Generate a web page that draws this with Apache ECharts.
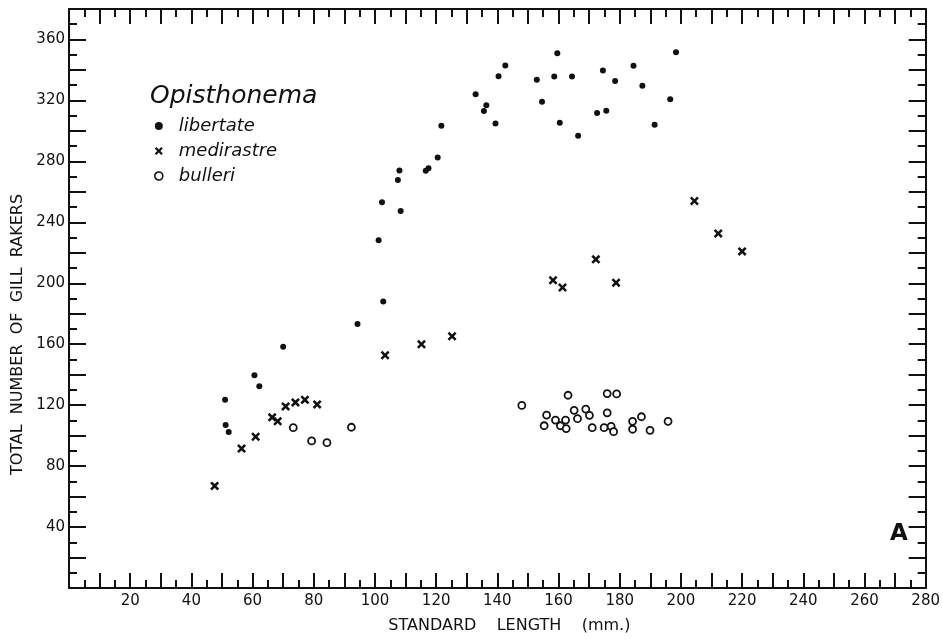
<!DOCTYPE html>
<html>
<head>
<meta charset="utf-8">
<title>Opisthonema gill rakers</title>
<script src="https://cdn.jsdelivr.net/npm/echarts@6/dist/echarts.min.js"></script>
<style>
  html, body { margin: 0; padding: 0; background: #fff; overflow: hidden; }
  #chart { width: 100vw; height: 100vh; }
</style>
</head>
<body>
<div id="chart"></div>
<script>
// standard length (mm) and total gill rakers
const libertateLength = [51.0, 51.2, 52.2, 60.6, 62.2, 70.0, 94.3, 101.2, 102.3, 102.7, 107.5, 108.0, 108.4, 116.6, 117.5, 120.5, 121.7, 132.9, 135.6, 136.4, 139.4, 140.4, 142.6, 152.9, 154.6, 158.6, 159.6, 160.4, 164.4, 166.4, 172.6, 174.5, 175.6, 178.5, 184.5, 187.4, 191.4, 196.5, 198.4]
const libertateRakers = [123.5, 107, 102.4, 139.6, 132.4, 158.3, 173.3, 228.3, 253.1, 188, 267.7, 274, 247.4, 273.8, 275.5, 282.5, 303.3, 324, 313.1, 316.8, 304.8, 335.9, 342.9, 333.5, 319.2, 335.7, 351, 305.3, 335.7, 296.8, 311.8, 339.7, 313.3, 332.7, 342.7, 329.6, 304, 320.7, 351.6]

const medirastreLength = [47.6, 56.4, 61.0, 66.4, 68.2, 70.8, 74.0, 77.1, 81.1, 103.3, 115.2, 125.2, 158.2, 161.3, 172.2, 178.8, 204.4, 212.2, 220.0]
const medirastreRakers = [67, 91.5, 99.3, 112, 109.4, 119.2, 121.8, 123.5, 120.5, 152.8, 160, 165.2, 202, 197.2, 215.7, 200.3, 254, 232.7, 220.9]

const bulleriLength = [73.3, 79.3, 84.3, 92.3, 148.0, 155.3, 156.1, 159.0, 160.6, 162.3, 162.5, 163.1, 165.1, 166.2, 168.9, 170.1, 171.0, 174.9, 175.9, 175.9, 177.2, 178.0, 179.0, 184.2, 184.2, 187.1, 189.9, 195.8]
const bulleriRakers = [105.2, 96.5, 95.4, 105.5, 119.8, 106.5, 113.5, 110.2, 106.5, 110.2, 104.6, 126.5, 116.6, 111.1, 117.4, 113.3, 105.2, 105.2, 115, 127.6, 106.1, 102.6, 127.4, 109.4, 104.2, 112.4, 103.5, 109.4]

const speciesNames = ['libertate', 'medirastre', 'bulleri']

const FONT = 'DejaVu Sans'
const INK = '#111'
// filled "x" mark
const CROSS = 'path://M0,2L2,0L5,3L8,0L10,2L7,5L10,8L8,10L5,7L2,10L0,8L3,5Z'

function zip(xs, ys) {
  return xs.map((x, i) => [x, ys[i]])
}

function frameAxis(extra) {
  return Object.assign({
    type: 'value',
    splitLine: { show: false },
    axisLine: { show: true, onZero: false, lineStyle: { color: INK, width: 2 } },
    axisTick: { show: true, inside: true, lineStyle: { color: INK, width: 2 } },
    minorTick: { show: true, splitNumber: 2, length: 8, lineStyle: { color: INK, width: 2 } },
    axisLabel: { show: false }
  }, extra)
}

const chart = echarts.init(document.getElementById('chart'))

chart.setOption({
  animation: false,
  backgroundColor: '#fff',
  title: [
    {
      text: 'Opisthonema',
      left: 145,
      top: 79,
      textStyle: { fontFamily: FONT, fontStyle: 'italic', fontWeight: 'normal', fontSize: 25, color: INK }
    },
    {
      text: 'A',
      left: 885,
      top: 518,
      textStyle: { fontFamily: FONT, fontWeight: 'bold', fontSize: 23, color: INK }
    }
  ],
  legend: {
    orient: 'vertical',
    left: 154,
    top: 117,
    padding: 0,
    itemGap: 7,
    itemWidth: 8,
    itemHeight: 8,
    textStyle: { fontFamily: FONT, fontStyle: 'italic', fontSize: 18, color: INK, padding: [0, 0, 0, 11] },
    data: [
      { name: speciesNames[0], icon: 'circle' },
      { name: speciesNames[1], icon: CROSS },
      { name: speciesNames[2], icon: 'circle', itemStyle: { color: '#fff', borderColor: INK, borderWidth: 1.6 } }
    ]
  },
  grid: { left: 69, right: 11, top: 9, bottom: 48 },
  xAxis: [
    frameAxis({
      position: 'bottom',
      min: 0,
      max: 280,
      interval: 10,
      axisTick: { show: true, inside: true, length: 15, lineStyle: { color: INK, width: 2 } },
      axisLabel: {
        show: true,
        margin: 6,
        fontFamily: FONT,
        fontSize: 15,
        color: INK,
        formatter: v => (v > 0 && v % 20 === 0 ? String(v) : '')
      },
      name: 'STANDARD    LENGTH    (mm.)',
      nameLocation: 'middle',
      nameGap: 30,
      nameTextStyle: { fontFamily: FONT, fontSize: 16, color: INK, padding: [0, 0, 0, 24] }
    }),
    frameAxis({
      position: 'top',
      min: 0,
      max: 280,
      interval: 10,
      axisTick: { show: true, inside: true, length: 15, lineStyle: { color: INK, width: 2 } }
    })
  ],
  yAxis: [
    frameAxis({
      position: 'left',
      min: 0,
      max: 380,
      interval: 20,
      axisTick: { show: true, inside: true, length: 17, lineStyle: { color: INK, width: 2 } },
      axisLabel: {
        show: true,
        margin: 4,
        fontFamily: FONT,
        fontSize: 15,
        color: INK,
        formatter: v => (v > 0 && v % 40 === 0 ? String(v) : '')
      },
      name: 'TOTAL  NUMBER  OF  GILL  RAKERS',
      nameLocation: 'middle',
      nameGap: 42,
      nameTextStyle: { fontFamily: FONT, fontSize: 16, color: INK, padding: [0, 72, 0, 0] }
    }),
    frameAxis({
      position: 'right',
      min: 0,
      max: 380,
      interval: 20,
      axisTick: { show: true, inside: true, length: 17, lineStyle: { color: INK, width: 2 } }
    })
  ],
  series: [
    {
      name: speciesNames[0],
      type: 'scatter',
      symbol: 'circle',
      symbolSize: 6,
      itemStyle: { color: INK, opacity: 1 },
      data: zip(libertateLength, libertateRakers)
    },
    {
      name: speciesNames[1],
      type: 'scatter',
      symbol: CROSS,
      symbolSize: 9,
      itemStyle: { color: INK, opacity: 1 },
      data: zip(medirastreLength, medirastreRakers)
    },
    {
      name: speciesNames[2],
      type: 'scatter',
      symbol: 'circle',
      symbolSize: 7,
      itemStyle: { color: '#fff', borderColor: INK, borderWidth: 1.8, opacity: 1 },
      data: zip(bulleriLength, bulleriRakers)
    }
  ]
})
</script>
</body>
</html>
